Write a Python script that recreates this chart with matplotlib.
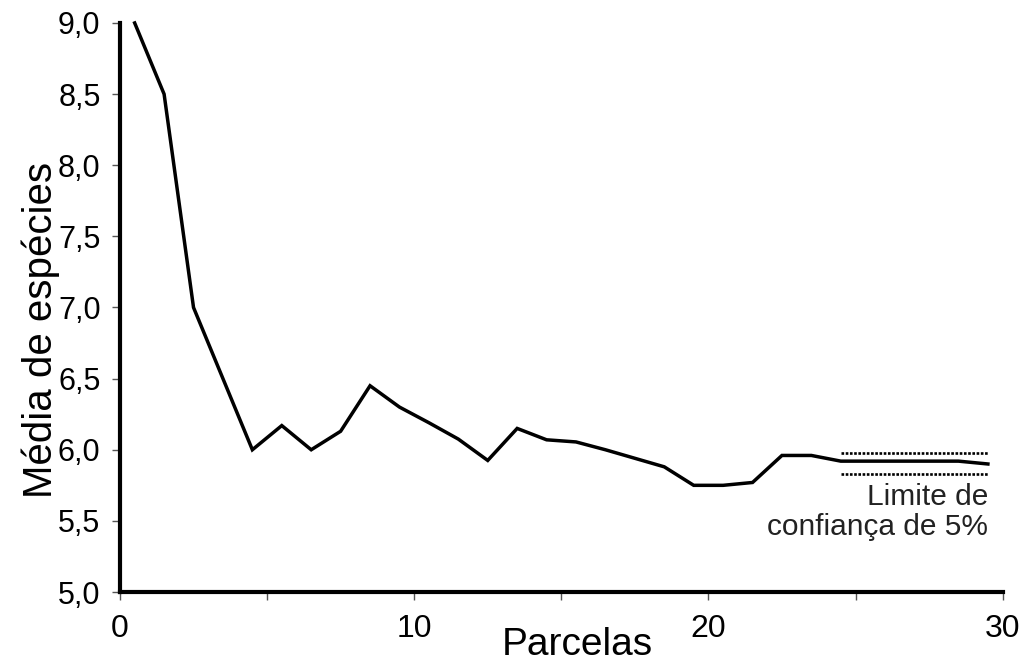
import numpy as np
import matplotlib.pyplot as plt

# Dados
parcelas = np.arange(1, 31)
media_especies = [9.0, 8.5, 7.0, 6.5, 6.0, 6.17, 6.0, 6.13, 6.45, 6.30,
                  6.19, 6.075, 5.925, 6.15, 6.07, 6.055, 6.0, 5.94, 5.88, 5.75,
                  5.75, 5.77, 5.96, 5.96, 5.92, 5.92, 5.92, 5.92, 5.92, 5.90]
limite_sup = 5.977
limite_inf = 5.83
limite_parcelas = [25, 30]

x_ticks = [0, 5, 10, 15, 20, 25, 30]
x_labels = ['0', '', '10', '', '20', '', '30']
y_ticks = [5.0, 5.5, 6.0, 6.5, 7.0, 7.5, 8.0, 8.5, 9.0]
y_labels = [f'{v:.1f}'.replace('.', ',') for v in y_ticks]

plt.rcParams['font.family'] = ['Liberation Sans', 'DejaVu Sans']

fig = plt.figure(figsize=(10.21, 6.64), dpi=100)
ax = fig.add_axes([0.1175, 0.1084, 0.8645, 0.857])

# categorias centradas entre os ticks
ax.plot(parcelas - 0.5, media_especies, color='black', lw=2.5,
        solid_joinstyle='miter', clip_on=False)
for lim in (limite_sup, limite_inf):
    ax.plot([p - 0.5 for p in limite_parcelas], [lim, lim], color='black',
            lw=1.9, linestyle=(0, (1, 0.6)), clip_on=False)

ax.text(29.5, 5.565, 'Limite de\nconfiança de 5%', ha='right', va='center',
        multialignment='right', fontsize=21.5, color='#222222', linespacing=1.1)

ax.set_xlim(0, 30)
ax.set_ylim(5, 9)
ax.set_xticks(x_ticks)
ax.set_xticklabels(x_labels, fontsize=23)
ax.set_yticks(y_ticks)
ax.set_yticklabels(y_labels, fontsize=22)
ax.tick_params(axis='both', direction='out', length=6, width=1, color='#555555')
ax.tick_params(axis='x', pad=10)
ax.tick_params(axis='y', pad=8)

for s in ('top', 'right'):
    ax.spines[s].set_visible(False)
for s in ('left', 'bottom'):
    ax.spines[s].set_linewidth(3)

ax.set_xlabel('Parcelas', fontsize=28, va='baseline')
ax.xaxis.set_label_coords(0.518, -0.11)
ax.set_ylabel('Média de espécies', fontsize=29)
ax.yaxis.set_label_coords(-0.068, 0.46)

fig.savefig('out.png', dpi=100)
